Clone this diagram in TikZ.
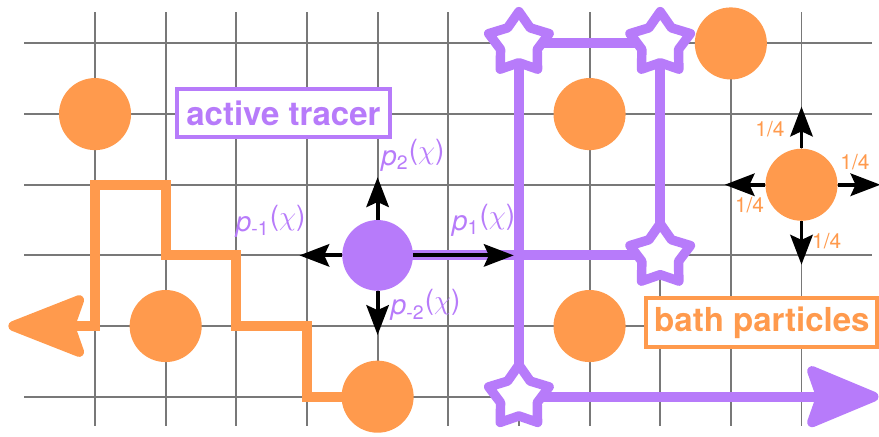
\documentclass[tikz,border=0pt]{standalone}
\usepackage{fontspec}
\setmainfont{TeX Gyre Heros}
\usetikzlibrary{shapes.geometric,arrows.meta,positioning,backgrounds}

\definecolor{bathorange}{HTML}{FF9A4D}
\definecolor{tracerpurple}{HTML}{B77BFA}
\definecolor{gridgray}{HTML}{787878}

\begin{document}
\begin{tikzpicture}[
  bath/.style={circle,fill=bathorange,minimum size=1.02cm,inner sep=0pt},
  tracer/.style={circle,fill=tracerpurple,minimum size=1cm,inner sep=0pt},
  visited/.style={star,star points=5,star point ratio=1.65,draw=tracerpurple,fill=white,line width=3.8pt,line join=round,minimum size=0.9cm,inner sep=0pt},
  gridline/.style={gridgray,line width=0.8pt},
  walk/.style={line width=4pt},
  hop/.style={-{Stealth[length=12pt,width=9pt,inset=2pt]},line width=1.6pt},
  prob/.style={text=tracerpurple,font=\fontsize{11.2}{13}\selectfont},
  rate/.style={text=bathorange,font=\fontsize{8.4}{10}\selectfont},
  legend/.style={draw,line width=1.6pt,fill=white,inner sep=0pt,minimum height=0.68cm,font=\bfseries\fontsize{13.3}{16}\selectfont}
]
\useasboundingbox (-0.345,-0.566) rectangle (12.097,5.615);

% Bath particles
\node[bath] (b14) at (1,4) {};
\node[bath] (b21) at (2,1) {};
\node[bath] (b50) at (5,0) {};
\node[bath] (b84) at (8,4) {};
\node[bath] (b81) at (8,1) {};
\node[bath] (b105) at (10,5) {};
\node[bath] (b113) at (11,3) {};

% Active tracer
\node[tracer] (tracer) at (5,2) {};

% Sites visited by the tracer
\node[visited] (st70) at (7,0) {};
\node[visited] (st75) at (7,5) {};
\node[visited] (st95) at (9,5) {};
\node[visited] (st92) at (9,2) {};

% Free ends of the walks
\coordinate (escL) at (-0.227,1);
\coordinate (escR) at (12.09,0);

\begin{scope}[on background layer]
  % Lattice
  \foreach \y in {0,...,5}
    \draw[gridline] (0,\y) -- (12,\y);
  \foreach \x in {1,...,11}
    \draw[gridline] (\x,-0.41) -- (\x,5.45);

  % Trajectory of a bath particle
  \draw[walk,bathorange,-{Stealth[length=35pt,width=27pt,inset=4.5pt,round]}]
    (b50.center) -- (4,0) -- (4,1) -- (3,1) -- (3,2) -- (2,2) -- (2,3) -- (1,3) -- (1,1) -- (escL);

  % Trajectory of the tracer
  \draw[walk,tracerpurple,-{Stealth[length=33pt,width=27pt,inset=4.5pt,round]}]
    (tracer.center) -- (st92.center) -- (st95.center) -- (st75.center) -- (st70.center) -- (escR);
\end{scope}

% Jumps of the tracer
\coordinate[above=0.6 of tracer] (trN);
\coordinate[below=0.62 of tracer] (trS);
\coordinate[left=0.6 of tracer] (trW);
\coordinate[right=1.42 of tracer] (trE);
\draw[hop] (tracer) -- (trN);
\draw[hop] (tracer) -- (trS);
\draw[hop] (tracer) -- (trW);
\draw[hop] (tracer) -- (trE);

% Jumps of a bath particle
\coordinate[above=0.59 of b113] (bN);
\coordinate[below=0.615 of b113] (bS);
\coordinate[left=0.57 of b113] (bW);
\coordinate[right=0.6 of b113] (bE);
\draw[hop] (b113) -- (bN);
\draw[hop] (b113) -- (bS);
\draw[hop] (b113) -- (bW);
\draw[hop] (b113) -- (bE);

% Jump probabilities
\node[prob] (p2) at (5.50,3.42) {\textit{p}\textsubscript{2}\raisebox{0.2em}{(\(\chi\))}};
\node[prob] (pm1) at (3.485,2.48) {\textit{p}\textsubscript{-1}\raisebox{0.2em}{(\(\chi\))}};
\node[prob] (p1) at (6.50,2.50) {\textit{p}\textsubscript{1}\raisebox{0.2em}{(\(\chi\))}};
\node[prob] (pm2) at (5.68,1.30) {\textit{p}\textsubscript{-2}\raisebox{0.2em}{(\(\chi\))}};

\node[rate] (rN) at (10.554,3.788) {1/4};
\node[rate] (rE) at (11.757,3.317) {1/4};
\node[rate] (rW) at (10.264,2.716) {1/4};
\node[rate] (rS) at (11.357,2.204) {1/4};

% Legend
\node[legend,draw=tracerpurple,text=tracerpurple,minimum width=3.015cm] (lgTracer) at (3.667,4.017) {active tracer};
\node[legend,draw=bathorange,text=bathorange,minimum width=3.27cm] (lgBath) at (10.44,1.05) {bath particles};

\end{tikzpicture}
\end{document}
